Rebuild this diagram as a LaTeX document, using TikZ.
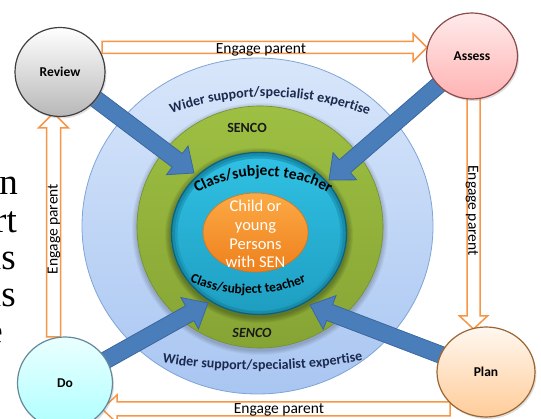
\documentclass[tikz,border=0pt]{standalone}
\usepackage{fontspec}
\setmainfont{Carlito}
\newfontfamily\bgserif{Liberation Serif}
\usetikzlibrary{calc,shapes.geometric,decorations.text,shadows}
\definecolor{engageC}{HTML}{F79646}
\definecolor{bluearr}{HTML}{4A7EBB}
\definecolor{bluearrd}{HTML}{3A679F}
\definecolor{navyT}{HTML}{1C2A4E}
\definecolor{outerT}{HTML}{D8E6FA}
\definecolor{outerB}{HTML}{A9C6F2}
\definecolor{outerD}{HTML}{7FA5D6}
\definecolor{greenT}{HTML}{9DBF42}
\definecolor{greenB}{HTML}{86A434}
\definecolor{greenD}{HTML}{748F2E}
\definecolor{cyanT}{HTML}{30C1E4}
\definecolor{cyanB}{HTML}{1E9EC1}
\definecolor{cyanR}{HTML}{1A8CAB}
\definecolor{cyanD}{HTML}{0F6379}
\definecolor{orT}{HTML}{FCAA45}
\definecolor{orB}{HTML}{EE801C}
\definecolor{orD}{HTML}{DB7215}
\pgfdeclarelayer{rings}
\pgfdeclarelayer{arrows}
\pgfsetlayers{rings,arrows,main}
\newcommand\fatarrow[6]{%
  \path ($(#3)!#6!(#2)$) coordinate (hb);
  \draw[#1] ($(#2)!#4!90:(#3)$) -- ($(hb)!#4!90:(#3)$) -- ($(hb)!#5!90:(#3)$) -- (#3)
    -- ($(hb)!#5!-90:(#3)$) -- ($(hb)!#4!-90:(#3)$) -- ($(#2)!#4!-90:(#3)$) -- cycle;}
\begin{document}
\begin{tikzpicture}[x=1pt,y=-1pt,
  ring/.style={ellipse, inner sep=0pt},
  stage/.style={ellipse, inner sep=0pt, line width=1.2pt,
    font=\fontsize{13.5}{14}\selectfont\bfseries, text=black,
    drop shadow={opacity=0.25, shadow xshift=1.5pt, shadow yshift=-2pt}},
  engage/.style={draw=engageC, line width=1.5pt, fill=white, line join=miter},
  bluefat/.style={fill=bluearr, draw=bluearrd, line width=0.8pt, line join=miter},
  lbl/.style={font=\fontsize{15.5}{16}\selectfont, text=black, inner sep=0pt},
  frag/.style={anchor=base east, inner sep=0pt, font=\bgserif\fontsize{37}{37}\selectfont},
]
\useasboundingbox (0,0) rectangle (541,419);

% ---- stage nodes
\node[stage, minimum width=90pt, minimum height=89pt, top color=white, bottom color=black!28, draw=black!75] (rev) at (60,72) {Review};
\node[stage, minimum width=91pt, minimum height=86pt, top color=red!8, bottom color=red!30, draw=red!35!black!70] (ass) at (472,56) {Assess};
\node[stage, minimum width=95pt, minimum height=92pt, top color=cyan!8, bottom color=cyan!32, draw=cyan!45!black!80] (do) at (65,383) {Do};
\node[stage, minimum width=98pt, minimum height=90pt, top color=orange!6, bottom color=orange!40, draw=orange!50!black!80] (plan) at (486,372) {Plan};

% ---- background text fragments
\node[frag] (f1) at (18,195) {n};
\node[frag] (f2) at (17,233) {rt};
\node[frag] (f3) at (16,270) {ls};
\node[frag] (f4) at (16,307) {ls};
\node[frag] (f5) at (3,344) {e};

% ---- rings
\begin{pgfonlayer}{rings}
\node[ring, minimum width=351pt, minimum height=336pt, top color=outerT, bottom color=outerB, draw=outerD, line width=0.8pt] (wider) at (257.5,226) {};
\foreach \d in {1,...,5}
  \fill[black, opacity=0.04] (260,229) ellipse [x radius={123pt+\d pt}, y radius={121pt+\d pt}];
\node[ring, minimum width=246pt, minimum height=242pt, top color=greenT, bottom color=greenB, draw=greenD, line width=0.6pt] (senco) at (260,227) {};
\foreach \d in {1,...,6}
  \fill[black, opacity=0.05] (259,235.5) ellipse [x radius={88pt+\d pt}, y radius={81.5pt+\d pt}];
\node[ring, minimum width=176pt, minimum height=163pt, top color=cyanT, bottom color=cyanB] (teach) at (259,233.5) {};
\draw[cyanB, line width=3pt] (teach.center) ellipse [x radius=83pt, y radius=76.5pt];
\draw[cyanR, line width=3pt] (teach.center) ellipse [x radius=85.5pt, y radius=79pt];
\draw[cyanD, line width=1.4pt] (teach.center) ellipse [x radius=87.5pt, y radius=81pt];
\node[ring, minimum width=105pt, minimum height=79pt, top color=orT, bottom color=orB, draw=orD, line width=0.6pt] (child) at (255.5,232.5) {};
\node[font=\fontsize{16.5}{18.7}\selectfont, text=white, align=center] (childtxt) at (255.5,234) {Child or\\young\\Persons\\with SEN};

\path[decorate, decoration={text along path, text align=center,
  text={|\fontsize{14}{14}\selectfont\bfseries\color{navyT}|Wider support/specialist expertise}}]
  (150,122) .. controls (225,88) and (310,88) .. (390,124);
\path[decorate, decoration={text along path, text align=center,
  text={|\fontsize{14}{14}\selectfont\bfseries\color{navyT}|Wider support/specialist expertise}}]
  (140,359) .. controls (220,374) and (305,374) .. (385,356);
\path[decorate, decoration={text along path, text align=center,
  text={|\fontsize{15.5}{16}\selectfont\bfseries\color{black}|Class/subject teacher}}]
  (166.8,215.8) .. controls (219.9,162.7) and (306.1,162.7) .. (359.2,215.8);
\path[decorate, decoration={text along path, text align=center,
  text={|\fontsize{13.5}{14}\selectfont\bfseries\color{black}|Class/subject teacher}}]
  (164.8,267.8) .. controls (214.7,302.7) and (281.3,302.7) .. (331.2,267.8);
\node[font=\fontsize{14}{14}\selectfont\bfseries, text=black!90] (senco1) at (247,128) {SENCO};
\node[font=\fontsize{14}{14}\selectfont\bfseries\itshape, text=black!90] (senco2) at (252,333) {SENCO};
\end{pgfonlayer}

% ---- arrows
\coordinate (tipR) at (194,173);
\coordinate (tipA) at (329,180);
\coordinate (tipD) at (208,303);
\coordinate (tipP) at (310,305);
\coordinate (eT1) at (102,47.5);
\coordinate (eT2) at (427,47.5);
\coordinate (eR1) at (473.5,98);
\coordinate (eR2) at (473.5,329);
\coordinate (eB1) at (450,409);
\coordinate (eB2) at (102,409);
\coordinate (eL1) at (53.5,337);
\coordinate (eL2) at (53.5,113);
\begin{pgfonlayer}{arrows}
\fatarrow{bluefat}{rev}{tipR}{8.5pt}{18pt}{21pt}
\fatarrow{bluefat}{ass}{tipA}{8.5pt}{18pt}{21pt}
\fatarrow{bluefat}{do}{tipD}{8.5pt}{18pt}{21pt}
\fatarrow{bluefat}{plan}{tipP}{8.5pt}{18pt}{21pt}
\fatarrow{engage}{eT1}{eT2}{6pt}{14pt}{14pt}
\fatarrow{engage}{eR1}{eR2}{6.5pt}{14pt}{13pt}
\fatarrow{engage}{eB1}{eB2}{7pt}{14pt}{15pt}
\fatarrow{engage}{eL1}{eL2}{7pt}{15pt}{15pt}
\node[lbl] (e1) at (261,49.5) {Engage parent};
\node[lbl, rotate=-90] (e2) at (472,210.5) {Engage parent};
\node[lbl] (e3) at (279,409.5) {Engage parent};
\node[lbl, rotate=90] (e4) at (54,229) {Engage parent};
\end{pgfonlayer}
\end{tikzpicture}
\end{document}
